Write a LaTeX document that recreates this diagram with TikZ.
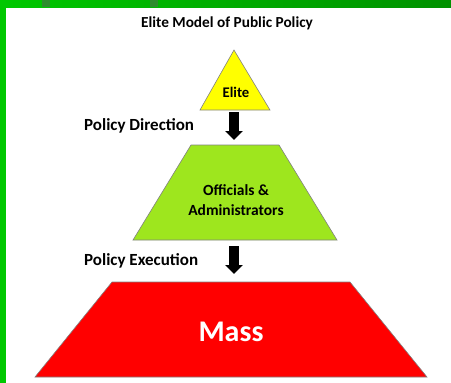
\documentclass[tikz,border=0pt]{standalone}
\usepackage{fontspec}
\setmainfont{Carlito}
\usetikzlibrary{arrows.meta,positioning}

\definecolor{framebright}{RGB}{0,200,0}
\definecolor{framedark}{RGB}{0,145,0}
\definecolor{framespot}{RGB}{45,140,45}
\definecolor{eliteyellow}{RGB}{255,255,0}
\definecolor{officialsgreen}{RGB}{158,230,30}
\definecolor{massred}{RGB}{255,0,0}

\begin{document}
\begin{tikzpicture}[x=1pt, y=-1pt,
    layer/.style={draw=gray, line width=0.6pt},
    caption/.style={font=\bfseries\fontsize{15.5}{20}\selectfont, inner sep=0pt},
    flowlabel/.style={font=\bfseries\fontsize{17}{20}\selectfont, inner sep=0pt, anchor=west},
    flow/.style={line width=10pt, -{Triangle[width=17pt, length=9pt]}},
    every node/.style={align=center}
    ]
    \useasboundingbox (0,0) rectangle (451,383);
    % green frame, left and top
    \fill[framebright] (0,0) rectangle (6,383);
    \shade[left color=framebright, right color=framedark] (0,0) rectangle (451,7);
    \foreach \x in {42,150}
        \fill[framespot] (\x,0) rectangle (\x+8,7);

    \node[caption, font=\bfseries\fontsize{15.3}{18}\selectfont] (title) at (227,23) {Elite Model of Public Policy};

    % the three layers
    \filldraw[layer, fill=eliteyellow] (234,50) -- (270,110) -- (200,110) -- cycle;
    \filldraw[layer, fill=officialsgreen] (191,145) -- (279,145) -- (337,240) -- (133,240) -- cycle;
    \filldraw[layer, fill=massred] (112,282) -- (350,282) -- (427,377) -- (35,377) -- cycle;

    \coordinate (elite base) at (234,110);
    \coordinate (officials top) at (234,145);
    \coordinate (officials base) at (234,240);
    \coordinate (mass top) at (234,282);

    \node[caption, font=\bfseries\fontsize{14.7}{18}\selectfont] (elite) at (236,92) {Elite};
    \node[caption] (officials) at (236,200) {Officials \&\\Administrators};
    \node[font=\bfseries\fontsize{30}{34}\selectfont, text=white] (mass) at (231,332) {Mass};

    % policy flow
    \node[flowlabel] (direction) at (84,126) {Policy Direction};
    \node[flowlabel] (execution) at (84,261) {Policy Execution};
    \draw[flow, shorten <=2pt, shorten >=5pt] (elite base) -- (officials top);
    \draw[flow, shorten <=6pt, shorten >=8pt] (officials base) -- (mass top);
\end{tikzpicture}
\end{document}
